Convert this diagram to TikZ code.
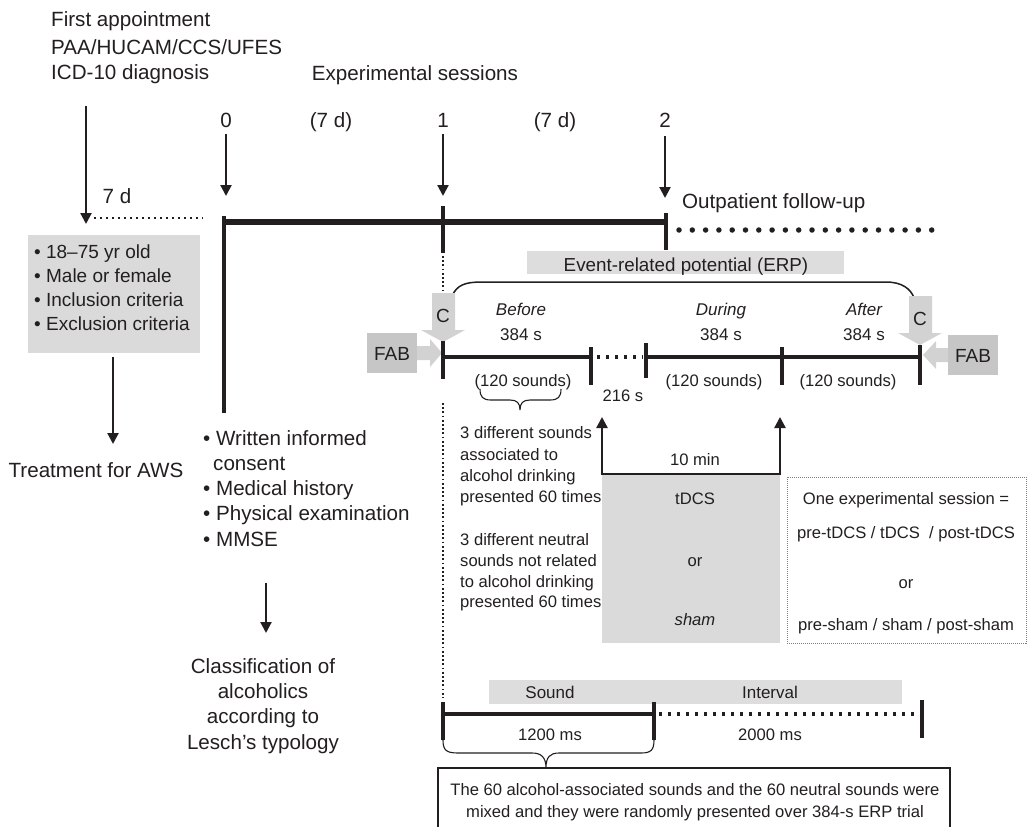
\documentclass[tikz,border=0pt]{standalone}
\usepackage{fontspec}
\setmainfont{Liberation Sans}
\usetikzlibrary{arrows.meta}
\definecolor{ink}{HTML}{231F20}
\definecolor{barg}{HTML}{DDDDDD}
\definecolor{boxg}{HTML}{DADADA}
\definecolor{fabg}{HTML}{C6C6C6}
\definecolor{cg}{HTML}{D2D2D2}
\begin{document}
\begin{tikzpicture}[x=1pt,y=-1pt,
  big/.style={inner sep=0pt, text=ink, font=\fontsize{20.6}{24}\selectfont},
  mid/.style={inner sep=0pt, text=ink, font=\fontsize{19}{22}\selectfont},
  mids/.style={inner sep=0pt, text=ink, font=\fontsize{17}{21}\selectfont},
  sm/.style={inner sep=0pt, text=ink, font=\fontsize{16.6}{20}\selectfont},
  arr/.style={draw=ink, line width=2.2pt, -{Triangle[length=11pt,width=11pt]}},
  tick/.style={draw=ink, line width=3.2pt},
  tl/.style={draw=ink, line width=4pt},
  dotl/.style={draw=ink, line width=3.6pt, dash pattern=on 3.4pt off 5.6pt},
  fdot/.style={draw=ink, line width=2.6pt, dash pattern=on 1.8pt off 2.4pt},
  thinl/.style={draw=ink, line width=1.5pt}]
\useasboundingbox (0,0) rectangle (1028,827);
\fill[white] (0,0) rectangle (1028,827);

% ---------- top left texts
\node[big, anchor=base west] (fa1) at (51,27) {First appointment};
\node[big, anchor=base west] (fa2) at (51,54) {PAA/HUCAM/CCS/UFES};
\node[big, anchor=base west] (fa3) at (51,79) {ICD-10 diagnosis};
\node[big, anchor=base] (exps) at (415,80) {Experimental sessions};
\node[big, anchor=base] (s0) at (226,127) {0};
\node[big, anchor=base] (d1) at (331,127) {(7 d)};
\node[big, anchor=base] (s1) at (443,127) {1};
\node[big, anchor=base] (d2) at (555,127) {(7 d)};
\node[big, anchor=base] (s2) at (665,127) {2};
\node[big, anchor=base] (sevend) at (117,203) {7 d};
\node[big, anchor=base west] (outp) at (682,208) {Outpatient follow-up};

% ---------- arrows from top
\coordinate (faA) at (86,106); \coordinate (faB) at (86,224);
\draw[arr] (faA) -- (faB);
\coordinate (a0A) at (226,134); \coordinate (a0B) at (226,196);
\draw[arr] (a0A) -- (a0B);
\coordinate (a1A) at (443,134); \coordinate (a1B) at (443,196);
\draw[arr] (a1A) -- (a1B);
\coordinate (a2A) at (665,136); \coordinate (a2B) at (665,198);
\draw[arr] (a2A) -- (a2B);

% 7 d dotted
\coordinate (sdA) at (94,218); \coordinate (sdB) at (203,218);
\draw[draw=ink, line width=2.2pt, dash pattern=on 2.2pt off 3.8pt] (sdA) -- (sdB);

% main timeline
\coordinate (t0) at (222,222); \coordinate (t2) at (667,222);
\draw[draw=ink, line width=5.5pt] (t0) -- (t2);
\coordinate (v0A) at (224,216); \coordinate (v0B) at (224,413);
\draw[tick] (v0A) -- (v0B);
\coordinate (k1A) at (443,206); \coordinate (k1B) at (443,253);
\draw[tick] (k1A) -- (k1B);
\coordinate (k2A) at (666,213); \coordinate (k2B) at (666,250);
\draw[tick] (k2A) -- (k2B);
\coordinate (fuA) at (679,230); \coordinate (fuB) at (932,230);
\draw[draw=ink, line width=5.5pt, line cap=round, dash pattern=on 0pt off 13.3pt] (fuA) -- (fuB);

% ---------- left grey box
\fill[boxg] (28,235) rectangle (200,353);
\node[mid, anchor=base west] (b1) at (34,258) {• 18–75 yr old};
\node[mid, anchor=base west] (b2) at (34,282) {• Male or female};
\node[mid, anchor=base west] (b3) at (34,306) {• Inclusion criteria};
\node[mid, anchor=base west] (b4) at (34,330) {• Exclusion criteria};
\coordinate (trA) at (113,357); \coordinate (trB) at (113,444);
\draw[arr] (trA) -- (trB);
\node[big, anchor=base] (treat) at (96,477) {Treatment for AWS};

% ---------- bullets below 0
\node[big, anchor=base west] (w1) at (203,445) {• Written informed};
\node[big, anchor=base west] (w2) at (213,470) {consent};
\node[big, anchor=base west] (w3) at (203,495) {• Medical history};
\node[big, anchor=base west] (w4) at (203,520) {• Physical examination};
\node[big, anchor=base west] (w5) at (203,546) {• MMSE};
\coordinate (clA) at (266,583); \coordinate (clB) at (266,633);
\draw[arr] (clA) -- (clB);
\node[big, anchor=base] (c1) at (263,673) {Classification of};
\node[big, anchor=base] (c2) at (263,698) {alcoholics};
\node[big, anchor=base] (c3) at (263,723) {according to};
\node[big, anchor=base] (c4) at (263,749) {Lesch's typology};

% ---------- ERP section
\fill[barg] (527,251) rectangle (844,274);
\node[inner sep=0pt, text=ink, font=\fontsize{18.8}{22}\selectfont, anchor=base] (erp) at (686,271) {Event-related potential (ERP)};
\draw[thinl] (452,296) .. controls (457,285) and (465,282) .. (482,282) -- (886,282) .. controls (902,282) and (911,289) .. (914,298);

% vertical dotted at session 1
\coordinate (vdA) at (443,256); \coordinate (vdB) at (443,292);
\draw[fdot] (vdA) -- (vdB);
\coordinate (vdC) at (443,403); \coordinate (vdD) at (443,698);
\draw[fdot] (vdC) -- (vdD);

% C arrows
\fill[cg] (432,293) -- (455,293) -- (455,330) -- (465,330) -- (443,342) -- (421,330) -- (432,330) -- cycle;
\node[mid, anchor=base] (cl) at (443,322) {C};
\fill[cg] (909,296) -- (932,296) -- (932,333) -- (942,333) -- (920,345) -- (898,333) -- (909,333) -- cycle;
\node[mid, anchor=base] (cr) at (920,325) {C};

% FAB
\fill[fabg] (367,333) rectangle (417,373);
\fill[cg] (417,346) -- (430,346) -- (430,339) -- (442,353) -- (430,367) -- (430,360) -- (417,360) -- cycle;
\node[mid, anchor=base] (fabl) at (392,360) {FAB};
\fill[fabg] (948,335) rectangle (998,375);
\fill[cg] (948,348) -- (936,348) -- (936,341) -- (923,355) -- (936,369) -- (936,362) -- (948,362) -- cycle;
\node[mid, anchor=base] (fabr) at (973,362) {FAB};

% ERP labels
\node[mids, anchor=base] (bef) at (521,315) {\itshape Before};
\node[mids, anchor=base] (bef2) at (521,340) {384 s};
\node[mids, anchor=base] (dur) at (721,315) {\itshape During};
\node[mids, anchor=base] (dur2) at (721,340) {384 s};
\node[mids, anchor=base] (aft) at (864,315) {\itshape After};
\node[mids, anchor=base] (aft2) at (864,340) {384 s};

% ERP timeline
\coordinate (e0) at (443,357); \coordinate (e1) at (591,357);
\coordinate (e2) at (646,357); \coordinate (e3) at (782,357); \coordinate (e4) at (920,357);
\draw[tl] (e0) -- (e1);
\draw[dotl] ([xshift=6pt]e1) -- ([xshift=-3pt]e2);
\draw[tl] (e2) -- (e4);
\draw[tick] (443,341) -- (443,379);
\draw[tick] (591,347) -- (591,385);
\draw[tick] (646,343) -- (646,378);
\draw[tick] (782,347) -- (782,385);
\draw[tick] (920,345) -- (920,385);

\node[sm, anchor=base] (n1) at (523,386) {(120 sounds)};
\node[sm, anchor=base] (n2) at (714,386) {(120 sounds)};
\node[sm, anchor=base] (n3) at (848,386) {(120 sounds)};
\node[sm, anchor=base] (t216) at (623,401) {216 s};
% brace under first (120 sounds)
\draw[draw=ink, line width=1.1pt] (480,389) .. controls (480,397) and (483,400) .. (491,400) -- (510,400) .. controls (517,400) and (520,403) .. (520,410)
  (520,410) .. controls (520,403) and (523,400) .. (530,400) -- (550,400) .. controls (558,400) and (561,397) .. (561,389);

% left texts
\node[sm, anchor=base west] (l1) at (460,438) {3 different sounds};
\node[sm, anchor=base west] (l2) at (460,460) {associated to};
\node[sm, anchor=base west] (l3) at (460,481) {alcohol drinking};
\node[sm, anchor=base west] (l4) at (460,502) {presented 60 times};
\node[sm, anchor=base west] (l5) at (460,545) {3 different neutral};
\node[sm, anchor=base west] (l6) at (460,566) {sounds not related};
\node[sm, anchor=base west] (l7) at (460,587) {to alcohol drinking};
\node[sm, anchor=base west] (l8) at (460,607) {presented 60 times};

% tDCS box
\fill[boxg] (602,474) rectangle (780,643);
\coordinate (uL) at (602,474); \coordinate (uR) at (780,474);
\coordinate (uLt) at (602,417); \coordinate (uRt) at (780,417);
\draw[draw=ink, line width=2.6pt] ([xshift=-1.3pt]uL) -- ([xshift=1.3pt]uR);
\draw[arr, line width=2.4pt] (uL) -- (uLt);
\draw[arr, line width=2.4pt] (uR) -- (uRt);
\node[sm, anchor=base] (tenmin) at (695,465) {10 min};
\node[sm, anchor=base] (tdcs) at (695,504) {tDCS};
\node[sm, anchor=base] (or1) at (695,566) {or};
\node[sm, anchor=base] (sham) at (695,625) {\itshape sham};

% right dotted box
\draw[draw=gray, line width=1pt, dash pattern=on 1pt off 1pt] (787,477) rectangle (1026,643);
\node[sm, anchor=base] (o1) at (906,504) {One experimental session =};
\node[sm, anchor=base] (o2) at (906,538) {pre-tDCS / tDCS \ / post-tDCS};
\node[sm, anchor=base] (o3) at (906,588) {or};
\node[sm, anchor=base] (o4) at (906,630) {pre-sham / sham / post-sham};

% Sound / Interval
\fill[barg] (489,680) rectangle (902,704);
\node[mids, anchor=base] (snd) at (550,698) {Sound};
\node[mids, anchor=base] (intv) at (770,698) {Interval};
\coordinate (s0b) at (443,714); \coordinate (s1b) at (654,714); \coordinate (s2b) at (918,714);
\draw[tl] (s0b) -- (s1b);
\draw[dotl] ([xshift=5pt]s1b) -- (s2b);
\draw[tick] (443,702) -- (443,740);
\draw[tick] (654,702) -- (654,740);
\draw[tick] (922,700) -- (922,738);
\node[sm, anchor=base] (ms1) at (550,740) {1200 ms};
\node[sm, anchor=base] (ms2) at (770,740) {2000 ms};
\draw[draw=ink, line width=1.1pt] (443,740) .. controls (443,750) and (446,753) .. (458,753) -- (532,753) .. controls (541,753) and (546,757) .. (546,768)
  (546,768) .. controls (546,757) and (550,753) .. (559,753) -- (641,753) .. controls (651,753) and (654,750) .. (654,740);

% bottom box
\draw[draw=ink, line width=1.2pt, fill=white] (438,768) rectangle (950,840);
\node[sm, anchor=base] (bt1) at (695,795) {The 60 alcohol-associated sounds and the 60 neutral sounds were};
\node[sm, anchor=base] (bt2) at (695,817) {mixed and they were randomly presented over 384-s ERP trial};
\end{tikzpicture}
\end{document}
